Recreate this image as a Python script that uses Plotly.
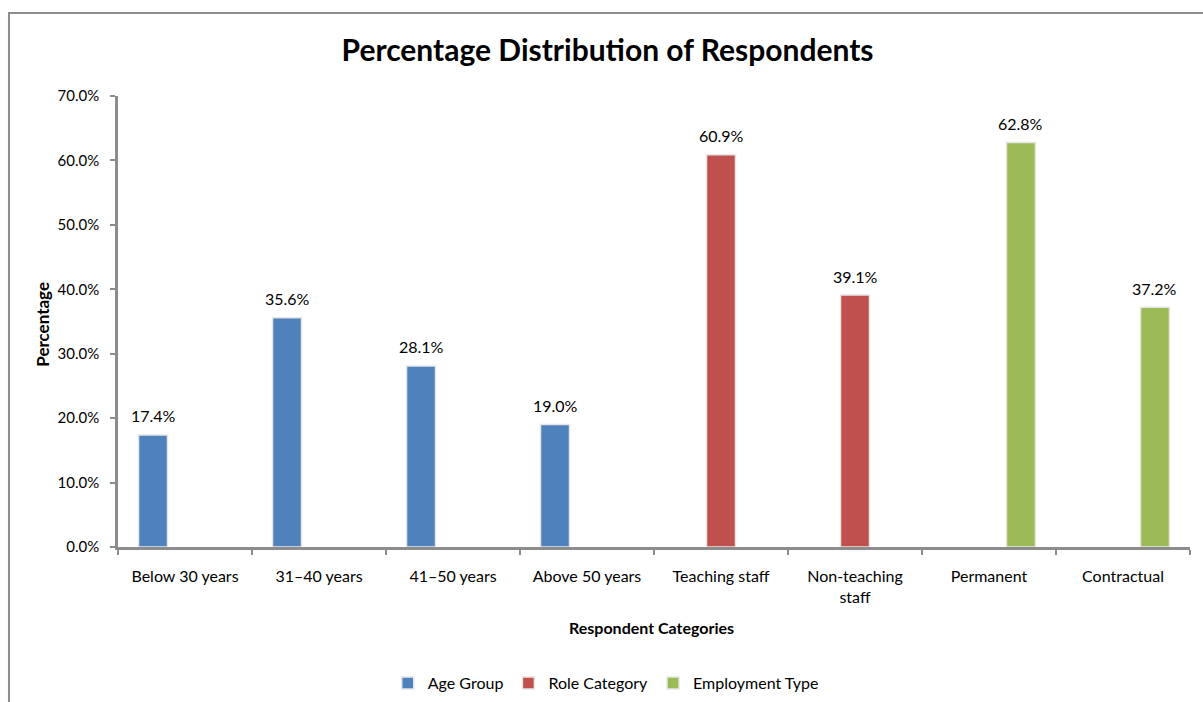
import plotly.graph_objects as go

categories = ["Below 30 years", "31–40 years", "41–50 years", "Above 50 years",
              "Teaching staff", "Non-teaching staff", "Permanent", "Contractual"]
tick_labels = ["Below 30 years", "31–40 years", "41–50 years", "Above 50 years",
               "Teaching staff", "Non-teaching<br>staff", "Permanent", "Contractual"]
series_names = ["Age Group", "Role Category", "Employment Type"]
age_group = [17.4, 35.6, 28.1, 19.0, None, None, None, None]
role_category = [None, None, None, None, 60.9, 39.1, None, None]
employment_type = [None, None, None, None, None, None, 62.8, 37.2]
colors = ["#4F81BD", "#C0504D", "#9BBB59"]
y_ticks = [0, 10, 20, 30, 40, 50, 60, 70]

FONT = "Lato"
BARGAP = 0.284
series_vals = [age_group, role_category, employment_type]

fig = go.Figure()
for name, vals, col in zip(series_names, series_vals, colors):
    fig.add_trace(go.Bar(
        x=categories, y=vals, name=name,
        marker=dict(color=col, line=dict(color="#e6e6e6", width=1.5)),
    ))

# data labels above bars
offset = (1 - BARGAP) / 3
annotations = []
for i, vals in enumerate(series_vals):
    for j, v in enumerate(vals):
        if v is None:
            continue
        annotations.append(dict(
            x=j + (i - 1) * offset, y=v, xref="x", yref="y",
            text=f"{v:.1f}%", showarrow=False, yshift=19,
            font=dict(family=FONT, size=16, color="#000000"),
        ))

annotations.append(dict(x=0.4975, y=-0.178, xref="paper", yref="paper",
                        xanchor="center", yanchor="middle",
                        text="<b>Respondent Categories</b>", showarrow=False,
                        font=dict(family=FONT, size=16, color="#000000")))
annotations.append(dict(x=-0.07, y=0.495, xref="paper", yref="paper",
                        xanchor="center", yanchor="middle",
                        text="<b>Percentage</b>", showarrow=False, textangle=-90,
                        font=dict(family=FONT, size=17, color="#000000")))

fig.update_layout(
    template="none",
    width=1203, height=702,
    margin=dict(l=118, r=13, t=96, b=155, autoexpand=False),
    paper_bgcolor="white", plot_bgcolor="white",
    barmode="group", bargap=BARGAP, bargroupgap=0.094,
    title=dict(text="<b>Percentage Distribution of Respondents</b>",
               x=0.505, xanchor="center", y=0.928, yanchor="middle",
               font=dict(family=FONT, size=30, color="#000000")),
    font=dict(family=FONT, size=16, color="#000000"),
    showlegend=True,
    legend=dict(orientation="h", x=0.455, xanchor="center", y=-0.302, yanchor="middle",
                font=dict(family=FONT, size=16, color="#000000"),
                itemwidth=30, traceorder="normal", bgcolor="rgba(0,0,0,0)"),
    annotations=annotations,
    shapes=[dict(type="rect", xref="paper", yref="paper",
                 x0=-0.1017, x1=1.05, y0=-0.40, y1=1.184,
                 line=dict(color="#8c8c8c", width=2), fillcolor="rgba(0,0,0,0)",
                 layer="below")],
)
fig.update_xaxes(
    tickvals=categories, ticktext=tick_labels, automargin=False,
    showline=True, linecolor="#8c8c8c", linewidth=2.5,
    ticks="outside", tickson="boundaries", ticklen=5, tickcolor="#8c8c8c", tickwidth=2,
    ticklabelstandoff=13,
    showgrid=False, tickfont=dict(family=FONT, size=16, color="#000000"),
)
fig.update_yaxes(
    range=[0, 70], tickvals=y_ticks, ticktext=[f"{t:.1f}%" for t in y_ticks],
    automargin=False,
    showline=True, linecolor="#8c8c8c", linewidth=2.5,
    ticks="outside", ticklen=5, tickcolor="#8c8c8c", tickwidth=2,
    ticklabelstandoff=8,
    showgrid=False, zeroline=False, tickfont=dict(family=FONT, size=15, color="#000000"),
)

fig.write_html("out.html")
